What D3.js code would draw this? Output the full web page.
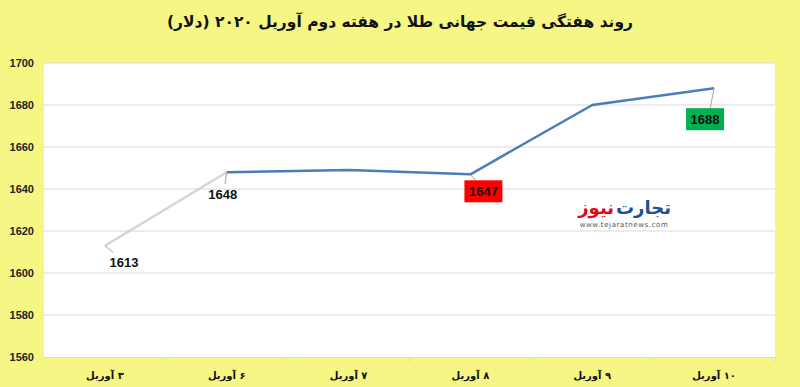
<!DOCTYPE html>
<html>
<head>
<meta charset="utf-8">
<script src="https://cdn.jsdelivr.net/npm/d3@7"></script>
<style>
  body { margin: 0; background: #f5f683; }
  svg { display: block; }
</style>
</head>
<body>
<svg id="chart"></svg>
<script>
// data
var days = ["۳ آوریل", "۶ آوریل", "۷ آوریل", "۸ آوریل", "۹ آوریل", "۱۰ آوریل"];
var prices = [1613, 1648, 1649, 1647, 1680, 1688];
var yTicks = [1560, 1580, 1600, 1620, 1640, 1660, 1680, 1700];
var titleText = "روند هفتگی قیمت جهانی طلا در هفته دوم آوریل ۲۰۲۰ (دلار)";

var W = 800, H = 387;
var margin = {top: 63, right: 25, bottom: 30, left: 44};
var width = W - margin.left - margin.right,
    height = H - margin.top - margin.bottom;

var svg = d3.select("#chart").attr("width", W).attr("height", H);

svg.append("rect").attr("width", W).attr("height", H).attr("fill", "#f5f683");

// title
svg.append("text")
  .attr("x", 400).attr("y", 27)
  .attr("text-anchor", "middle")
  .attr("direction", "rtl")
  .attr("font-family", "DejaVu Sans, Noto Sans")
  .attr("font-weight", "bold")
  .attr("font-size", "15.5px")
  .attr("fill", "#111")
  .text(titleText);

var plot = svg.append("g")
  .attr("transform", "translate(" + margin.left + "," + margin.top + ")");

plot.append("rect").attr("width", width).attr("height", height).attr("fill", "#fff");

var x = d3.scaleBand().domain(days).range([0, width]);
var y = d3.scaleLinear().domain([1560, 1700]).range([height, 0]);

// gridlines
plot.append("g")
  .selectAll("line")
  .data(yTicks.slice(1))
  .enter().append("line")
  .attr("x1", 0).attr("x2", width)
  .attr("y1", function(d) { return y(d); })
  .attr("y2", function(d) { return y(d); })
  .attr("stroke", "#d9d9d9").attr("stroke-width", 1);

// y axis
var yAxis = plot.append("g")
  .call(d3.axisLeft(y).tickValues(yTicks).tickFormat(d3.format("d")).tickSize(0).tickPadding(10));
yAxis.select(".domain").remove();
yAxis.selectAll("text")
  .attr("font-family", "Arial, Liberation Sans")
  .attr("font-weight", "bold")
  .attr("font-size", "11px")
  .attr("fill", "#222");

// x axis
var xAxis = plot.append("g")
  .attr("transform", "translate(0," + height + ")")
  .call(d3.axisBottom(x).tickSize(0).tickPadding(15));
xAxis.select(".domain").attr("stroke", "#d9d9d9");
xAxis.selectAll("text")
  .attr("direction", "rtl")
  .attr("font-family", "DejaVu Sans")
  .attr("font-weight", "bold")
  .attr("font-size", "10px")
  .attr("fill", "#111");

// tick marks at category boundaries
plot.append("g")
  .selectAll("line")
  .data(days)
  .enter().append("line")
  .attr("x1", function(d) { return x(d) + x.bandwidth(); })
  .attr("x2", function(d) { return x(d) + x.bandwidth(); })
  .attr("y1", height).attr("y2", height + 5)
  .attr("stroke", "#d9d9d9");

var px = function(i) { return x(days[i]) + x.bandwidth() / 2; };

// first segment gray, rest blue
var line = d3.line()
  .x(function(d) { return px(d.i); })
  .y(function(d) { return y(d.v); });

var pts = prices.map(function(v, i) { return {i: i, v: v}; });

plot.append("path")
  .datum(pts.slice(0, 2))
  .attr("d", line)
  .attr("fill", "none")
  .attr("stroke", "#d4d4d4")
  .attr("stroke-width", 2.5);

plot.append("path")
  .datum(pts.slice(1))
  .attr("d", line)
  .attr("fill", "none")
  .attr("stroke", "#4a7ebb")
  .attr("stroke-width", 2.5)
  .attr("stroke-linejoin", "round");

// data labels
var labels = [
  {i: 0, dx: 19, dy: 17, bg: null},
  {i: 1, dx: -4, dy: 22, bg: null},
  {i: 3, dx: 13, dy: 17, bg: "#ff0000"},
  {i: 5, dx: -9, dy: 31, bg: "#00b050"}
];

labels.forEach(function(l) {
  var cx = px(l.i), cy = y(prices[l.i]);
  var lx = cx + l.dx, ly = cy + l.dy;
  // leader line
  plot.append("line")
    .attr("x1", cx).attr("y1", cy)
    .attr("x2", cx + l.dx * 0.45).attr("y2", ly - 10)
    .attr("stroke", "#a6a6a6").attr("stroke-width", 1);
  if (l.bg) {
    plot.append("rect")
      .attr("x", lx - 19).attr("y", ly - 11)
      .attr("width", 38).attr("height", 22)
      .attr("fill", l.bg);
  }
  plot.append("text")
    .attr("x", lx).attr("y", ly + 4.5)
    .attr("text-anchor", "middle")
    .attr("font-family", "Arial, Liberation Sans")
    .attr("font-weight", "bold")
    .attr("font-size", "13px")
    .attr("fill", "#111")
    .text(prices[l.i]);
});

// logo
var logo = svg.append("g").attr("transform", "translate(614,214)");
logo.append("text")
  .attr("x", 2)
  .attr("text-anchor", "start")
  .attr("direction", "ltr")
  .attr("font-family", "DejaVu Sans")
  .attr("font-weight", "bold")
  .attr("font-size", "18px")
  .attr("fill", "#1d4f9c")
  .text("تجارت");
logo.append("text")
  .attr("x", 0)
  .attr("text-anchor", "end")
  .attr("direction", "ltr")
  .attr("font-family", "DejaVu Sans")
  .attr("font-weight", "bold")
  .attr("font-size", "18px")
  .attr("fill", "#e30613")
  .text("نیوز");
logo.append("text")
  .attr("x", 10)
  .attr("y", 13)
  .attr("text-anchor", "middle")
  .attr("font-family", "DejaVu Sans")
  .attr("font-size", "7px")
  .attr("letter-spacing", "0.6px")
  .attr("fill", "#555")
  .text("www.tejaratnews.com");
</script>
</body>
</html>
